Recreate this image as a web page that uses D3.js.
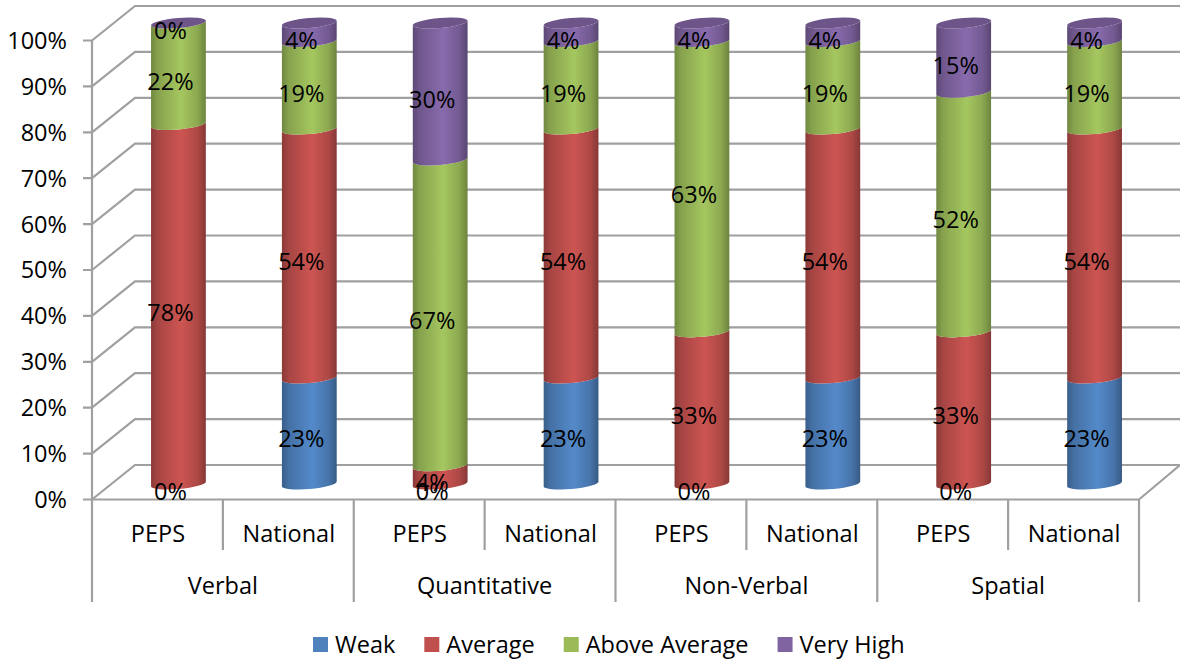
<!DOCTYPE html>
<html><head><meta charset="utf-8">
<script src="https://cdnjs.cloudflare.com/ajax/libs/d3/7.8.5/d3.min.js"></script>
<style>html,body{margin:0;padding:0;background:#fff}svg{display:block}text{font-family:"Open Sans",sans-serif;fill:#000}</style>
</head><body><div id="c"></div>
<script>
const groups = ["Verbal","Quantitative","Non-Verbal","Spatial"];
const subLabels = ["PEPS","National"];
const seriesNames = ["Weak","Average","Above Average","Very High"];
const seriesColors = ["#4F81BD","#C0504D","#9BBB59","#8064A2"];
const weak     = [0,23,0,23,0,23,0,23];
const average  = [78,54,4,54,33,54,33,54];
const above    = [22,19,67,19,63,19,52,19];
const veryHigh = [0,4,30,4,4,4,15,4];
const ticks = [0,10,20,30,40,50,60,70,80,90,100];

const W=1180,H=662,FS=23.5;
const svg=d3.select("#c").append("svg").attr("width",W).attr("height",H);
const defs=svg.append("defs");
const grid="#a0a0a0";
const depthX=43;
const yFront=d3.scaleLinear().domain([0,100]).range([499.5,40.5]);
const yBack=d3.scaleLinear().domain([0,100]).range([465,6]);
const yBar=d3.scaleLinear().domain([0,100]).range([484,23]);
const bars=d3.range(8);
const x=d3.scaleBand().domain(bars).range([92,1139]);
const left=x.range()[0], right=x.range()[1];
const shift=21, rx=27.5, ry=5, rot=-5;
const dxE=rx*Math.cos(rot*Math.PI/180), dyE=rx*Math.sin(rot*Math.PI/180);

// walls
ticks.forEach(t=>{
  svg.append("path").attr("fill","none").attr("stroke",grid).attr("stroke-width",2.2)
    .attr("d",`M${left-9},${yFront(t)}L${left},${yFront(t)}L${left+depthX},${yBack(t)}L${W},${yBack(t)}`);
  svg.append("text").attr("x",67).attr("y",yFront(t)).attr("dy","0.36em").attr("text-anchor","end")
    .attr("font-size",FS).text(t+"%");
});
svg.append("path").attr("fill","none").attr("stroke",grid).attr("stroke-width",2.2)
  .attr("d",`M${left},${yFront(100)}L${left},${yFront(0)}L${right},${yFront(0)}L${W},${yBack(0)}`);
// separators
d3.range(9).forEach(i=>{
  const px=i<8?x(i):right;
  svg.append("line").attr("x1",px).attr("x2",px).attr("y1",yFront(0)).attr("y2",i%2?550:602)
    .attr("stroke",grid).attr("stroke-width",2.2);
});
bars.forEach(i=>svg.append("text").attr("x",x(i)+x.bandwidth()/2+0.5).attr("y",534).attr("dy","0.36em")
  .attr("text-anchor","middle").attr("font-size",FS).text(subLabels[i%2]));
groups.forEach((g,i)=>svg.append("text").attr("x",x(i*2)+x.bandwidth()).attr("y",586).attr("dy","0.36em")
  .attr("text-anchor","middle").attr("font-size",FS).text(g));

// gradients
seriesColors.forEach((c,i)=>{
  const g=defs.append("linearGradient").attr("id","g"+i).attr("x1",0).attr("x2",1).attr("y1",0).attr("y2",0);
  const base=d3.color(c);
  [[0,base.darker(0.9)],[0.12,base.darker(0.4)],[0.55,base.brighter(0.18)],[0.85,base.darker(0.3)],[1,base.darker(1.0)]]
    .forEach(([o,col])=>g.append("stop").attr("offset",o).attr("stop-color",col));
});

const rows=[weak,average,above,veryHigh];
const labels=[];
bars.forEach(i=>{
  const cx=x(i)+x.bandwidth()/2+shift;
  const total=d3.sum(rows,r=>r[i]);
  let acc=0;
  rows.forEach((r,s)=>{
    const v0=acc/total*100; acc+=r[i]; const v1=acc/total*100;
    const y0=yBar(v0),y1=yBar(v1);
    if(r[i]>0){
      svg.append("path").attr("fill",`url(#g${s})`)
        .attr("d",`M${cx-dxE},${y0-dyE}A${rx},${ry} ${rot} 0 0 ${cx+dxE},${y0+dyE}L${cx+dxE},${y1+dyE}A${rx},${ry} ${rot} 0 1 ${cx-dxE},${y1-dyE}Z`);
    }
    labels.push({x:cx-8,y:(y0+y1)/2+8,t:r[i]+"%"});
  });
  svg.append("ellipse").attr("cx",0).attr("cy",0).attr("rx",rx).attr("ry",ry)
    .attr("transform",`translate(${cx},${yBar(100)}) rotate(${rot})`)
    .attr("fill",d3.color(seriesColors[3]).darker(0.45));
});
labels.forEach(l=>svg.append("text").attr("x",l.x).attr("y",l.y).attr("dy","0.36em")
  .attr("text-anchor","middle").attr("font-size",FS).text(l.t));

// legend
let lx=313;
seriesNames.forEach((n,i)=>{
  svg.append("rect").attr("x",lx).attr("y",637).attr("width",15).attr("height",15).attr("fill",seriesColors[i]);
  const t=svg.append("text").attr("x",lx+22).attr("y",645).attr("dy","0.36em").attr("font-size",FS).text(n);
  lx+=22+t.node().getComputedTextLength()+29;
});
</script></body></html>
